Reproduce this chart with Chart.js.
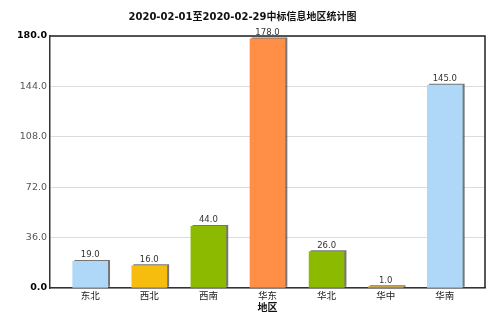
<!DOCTYPE html>
<html lang="zh">
<head>
<meta charset="UTF-8">
<title>中标信息地区统计图</title>
<style>
  body { margin: 0; background: #fff; }
</style>
</head>
<body>
<canvas id="chart" width="500" height="324"></canvas>
<script src="https://cdn.jsdelivr.net/npm/chart.js@4/dist/chart.umd.min.js"></script>
<script>
var regions = ["东北", "西北", "西南", "华东", "华北", "华中", "华南"];
var counts = [19, 16, 44, 178, 26, 1, 145];
var barColors = ["#afd8f8", "#f6bd0f", "#8bba00", "#ff8e46", "#8bba00", "#d8a838", "#afd8f8"];
var yMax = 180;
var yStep = 36;

var FONT = "'DejaVu Sans', 'Noto Sans CJK SC', sans-serif";

// top and right edges of the plot box
var framePlugin = {
    id: 'frame',
    beforeDatasetsDraw: function (chart) {
        var a = chart.chartArea, ctx = chart.ctx;
        ctx.save();
        ctx.strokeStyle = '#222';
        ctx.lineWidth = 1.5;
        ctx.beginPath();
        ctx.moveTo(a.left, a.top);
        ctx.lineTo(a.right, a.top);
        ctx.lineTo(a.right, a.bottom);
        ctx.stroke();
        ctx.restore();
    }
};

// drop shadow on the bars + value on top of each one
var barPlugin = {
    id: 'barExtras',
    beforeDatasetsDraw: function (chart) {
        var ctx = chart.ctx;
        ctx.save();
        ctx.shadowColor = 'rgba(60,60,60,0.7)';
        ctx.shadowOffsetX = 2;
        ctx.shadowOffsetY = -1;
        ctx.shadowBlur = 0;
    },
    afterDatasetsDraw: function (chart) {
        var ctx = chart.ctx;
        ctx.restore();
        var meta = chart.getDatasetMeta(0);
        ctx.save();
        ctx.font = '8.5px ' + FONT;
        ctx.fillStyle = '#333';
        ctx.textAlign = 'center';
        ctx.textBaseline = 'bottom';
        meta.data.forEach(function (bar, i) {
            ctx.fillText(counts[i].toFixed(1), bar.x, bar.y - 2);
        });
        ctx.restore();
    }
};

new Chart(document.getElementById('chart'), {
    type: 'bar',
    data: {
        datasets: [{
            data: counts.map(function (v, i) { return { x: i, y: v }; }),
            backgroundColor: barColors,
            borderWidth: 0,
            barThickness: 35
        }]
    },
    options: {
        responsive: false,
        animation: false,
        layout: { padding: { right: 15 } },
        plugins: {
            legend: { display: false },
            tooltip: { enabled: false },
            title: {
                display: true,
                text: '2020-02-01至2020-02-29中标信息地区统计图',
                color: '#111',
                font: { family: FONT, size: 10, weight: 'bold', lineHeight: '16px' },
                padding: { top: 9, bottom: 11 }
            }
        },
        scales: {
            x: {
                type: 'linear',
                offset: false,
                min: -0.68,
                max: 6.68,
                afterBuildTicks: function (scale) {
                    scale.ticks = regions.map(function (r, i) { return { value: i }; });
                },
                afterFit: function (scale) { scale.height = 36; },
                grid: { display: false, drawTicks: false, offset: false },
                border: { color: '#333', width: 1.5 },
                ticks: {
                    autoSkip: false,
                    maxRotation: 0,
                    padding: 3,
                    color: '#222',
                    font: { family: FONT, size: 9.5 },
                    callback: function (v) { return regions[v]; }
                },
                title: {
                    display: true,
                    text: '地区',
                    color: '#111',
                    font: { family: FONT, size: 10, weight: 'bold' },
                    padding: { top: 0, bottom: 10 }
                }
            },
            y: {
                min: 0,
                max: yMax,
                afterFit: function (scale) { scale.width = 50; },
                grid: { color: '#dcdcdc', drawTicks: false },
                border: { color: '#333', width: 1.5 },
                ticks: {
                    stepSize: yStep,
                    padding: 3,
                    color: function (c) {
                        return (c.tick.value === 0 || c.tick.value === yMax) ? '#000' : '#555';
                    },
                    font: function (c) {
                        var edge = c.tick && (c.tick.value === 0 || c.tick.value === yMax);
                        return { family: FONT, size: 9.5, weight: edge ? 'bold' : 'normal' };
                    },
                    callback: function (v) { return v.toFixed(1); }
                }
            }
        }
    },
    plugins: [framePlugin, barPlugin]
});
</script>
</body>
</html>
